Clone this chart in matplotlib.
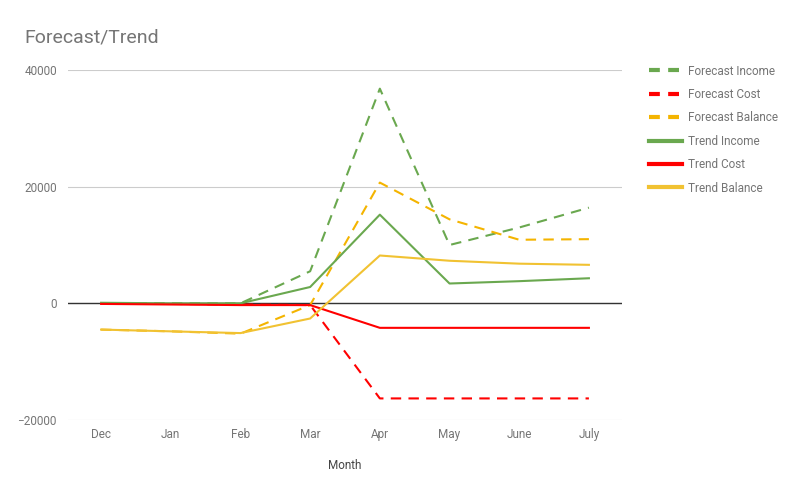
import matplotlib
matplotlib.use("Agg")
import matplotlib.pyplot as plt
from matplotlib.lines import Line2D

plt.rcParams['font.family'] = ['Roboto', 'DejaVu Sans']

months = ['Dec', 'Jan', 'Feb', 'Mar', 'Apr', 'May', 'June', 'July']

forecast_income = [0, 0, 0, 5500, 36800, 10000, 13000, 16400]
forecast_cost = [0, -100, -200, -300, -16300, -16300, -16300, -16300]
forecast_balance = [-4500, -4800, -5200, -300, 20700, 14400, 10900, 11000]
trend_income = [100, 0, 0, 2800, 15200, 3400, 3800, 4300]
trend_cost = [-100, -200, -300, -300, -4200, -4200, -4200, -4200]
trend_balance = [-4500, -4800, -5100, -2600, 8200, 7300, 6800, 6600]

green = '#6aa84f'
red = '#ff0000'
amber = '#f4b400'
yellow = '#f1c232'
grey = '#757575'

fig = plt.figure(figsize=(8, 4.95), dpi=100)
ax = fig.add_axes([0.085, 0.1515, 0.6925, 0.7071])

x = range(len(months))
ax.axhline(0, color='#333333', lw=1.0, zorder=1)

dash = (0, (5, 3.5))
ax.plot(x, forecast_income, color=green, lw=1.5, linestyle=dash, zorder=3)
ax.plot(x, forecast_cost, color=red, lw=1.5, linestyle=dash, zorder=3)
ax.plot(x, forecast_balance, color=amber, lw=1.5, linestyle=dash, zorder=3)
ax.plot(x, trend_income, color=green, lw=1.5, zorder=3)
ax.plot(x, trend_cost, color=red, lw=1.5, zorder=3)
ax.plot(x, trend_balance, color=yellow, lw=1.5, zorder=3)

ax.set_xlim(-0.475, 7.475)
ax.set_ylim(-20000, 40000)
ax.set_yticks([-20000, 0, 20000, 40000])
ax.set_xticks(list(x))
ax.set_xticklabels(months)
ax.grid(axis='y', color='#cccccc', lw=0.8)
ax.set_axisbelow(True)
for s in ax.spines.values():
    s.set_visible(False)
ax.tick_params(length=0, labelsize=8.5, labelcolor=grey)
ax.tick_params(axis='x', pad=6)
ax.tick_params(axis='y', pad=8)
ax.set_xlabel('Month', fontsize=8.5, color='#444444', labelpad=13)

fig.text(0.031, 0.925, 'Forecast/Trend', fontsize=14, color=grey, va='center')

handles = [
    Line2D([], [], color=green, lw=3, linestyle=(0, (2.6, 2.0))),
    Line2D([], [], color=red, lw=3, linestyle=(0, (2.6, 2.0))),
    Line2D([], [], color=amber, lw=3, linestyle=(0, (2.6, 2.0))),
    Line2D([], [], color=green, lw=3),
    Line2D([], [], color=red, lw=3),
    Line2D([], [], color=yellow, lw=3),
]
labels = ['Forecast Income', 'Forecast Cost', 'Forecast Balance',
          'Trend Income', 'Trend Cost', 'Trend Balance']
leg = fig.legend(handles, labels, loc='upper left', bbox_to_anchor=(0.805, 0.879),
                 frameon=False, fontsize=8.5, handlelength=2.8, handletextpad=0.5,
                 labelspacing=0.88, borderaxespad=0)
for t in leg.get_texts():
    t.set_color(grey)

fig.savefig('out.png', dpi=100)
